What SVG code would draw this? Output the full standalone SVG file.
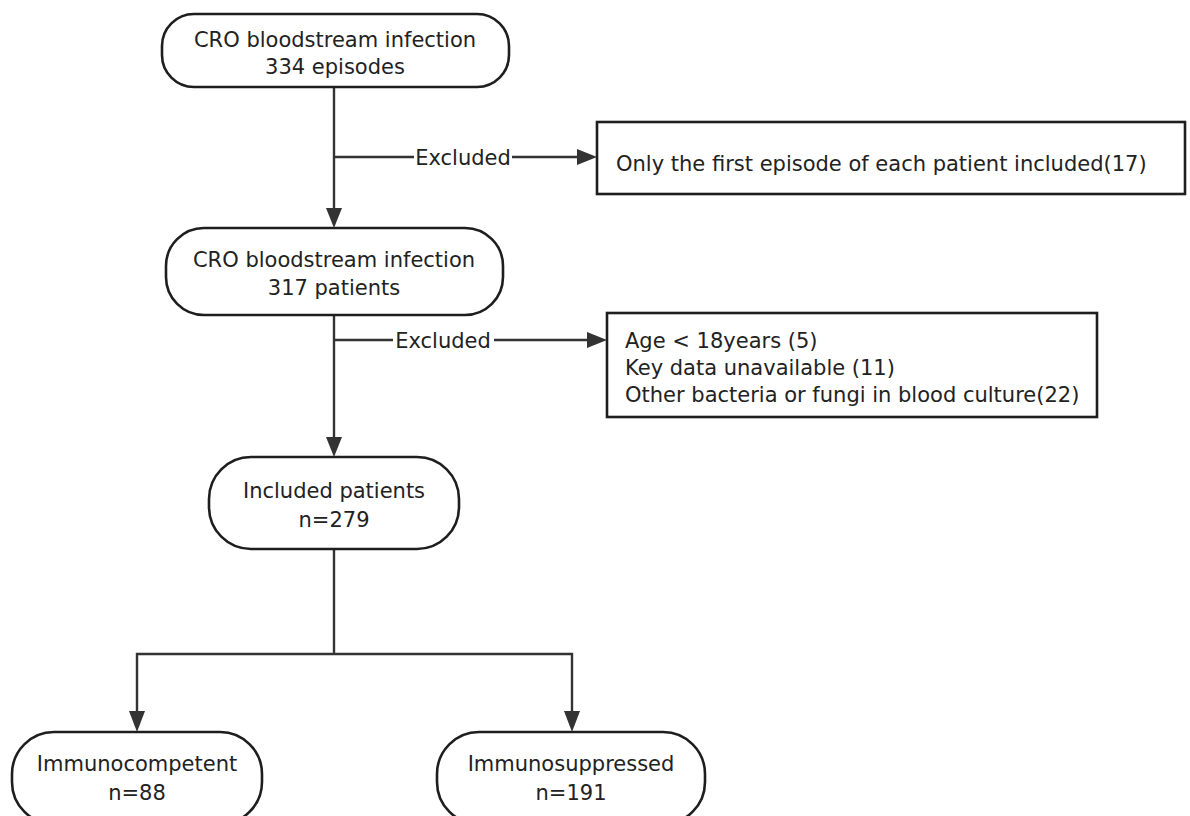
<svg xmlns="http://www.w3.org/2000/svg" width="1190" height="816" viewBox="0 0 1190 816">
<defs>
<style>
.node{fill:#fff;stroke:#1e1e1e;stroke-width:2.6}
.t{font-family:"DejaVu Sans","Open Sans",sans-serif;font-size:21px;fill:#222}
.c{text-anchor:middle}
.edge{fill:none;stroke:#333;stroke-width:2.4}
.head{fill:#333}
</style>
</defs>
<rect width="1190" height="816" fill="#fff"/>
<g id="connectors">
<path class="edge" d="M334,87 V210"/>
<path class="head" d="M334,228 L326,208 L342,208 Z"/>
<path class="edge" d="M334,157 H414 M512,157 H580"/>
<path class="head" d="M597,157 L577,149 L577,165 Z"/>
<path class="edge" d="M334,315 V439"/>
<path class="head" d="M334,457 L326,437 L342,437 Z"/>
<path class="edge" d="M334,340 H393 M494,340 H590"/>
<path class="head" d="M607,340 L587,332 L587,348 Z"/>
<path class="edge" d="M334,549 V654 M137,713 V654 H572 V713"/>
<path class="head" d="M137,732 L129,711 L145,711 Z"/>
<path class="head" d="M572,732 L564,711 L580,711 Z"/>
<text class="t c" x="463" y="165">Excluded</text>
<text class="t c" x="443" y="348">Excluded</text>
</g>
<g id="n1">
<rect class="node" x="162" y="14" width="347" height="73" rx="32"/>
<text class="t c" x="335" y="47">CRO bloodstream infection</text>
<text class="t c" x="335" y="74">334 episodes</text>
</g>
<g id="n2">
<rect class="node" x="597" y="122" width="588" height="72"/>
<text class="t" x="616" y="171">Only the first episode of each patient included(17)</text>
</g>
<g id="n3">
<rect class="node" x="166" y="228" width="337" height="87" rx="38"/>
<text class="t c" x="334" y="267">CRO bloodstream infection</text>
<text class="t c" x="334" y="295">317 patients</text>
</g>
<g id="n4">
<rect class="node" x="607" y="313" width="490" height="104"/>
<text class="t" x="625" y="348">Age &lt; 18years (5)</text>
<text class="t" x="625" y="375">Key data unavailable (11)</text>
<text class="t" x="625" y="402">Other bacteria or fungi in blood culture(22)</text>
</g>
<g id="n5">
<rect class="node" x="209" y="457" width="250" height="92" rx="42"/>
<text class="t c" x="334" y="498">Included patients</text>
<text class="t c" x="334" y="527">n=279</text>
</g>
<g id="n6">
<rect class="node" x="12" y="732" width="250" height="92" rx="42"/>
<text class="t c" x="137" y="771">Immunocompetent</text>
<text class="t c" x="137" y="800">n=88</text>
</g>
<g id="n7">
<rect class="node" x="437" y="732" width="268" height="92" rx="42"/>
<text class="t c" x="571" y="771">Immunosuppressed</text>
<text class="t c" x="571" y="800">n=191</text>
</g>
</svg>
